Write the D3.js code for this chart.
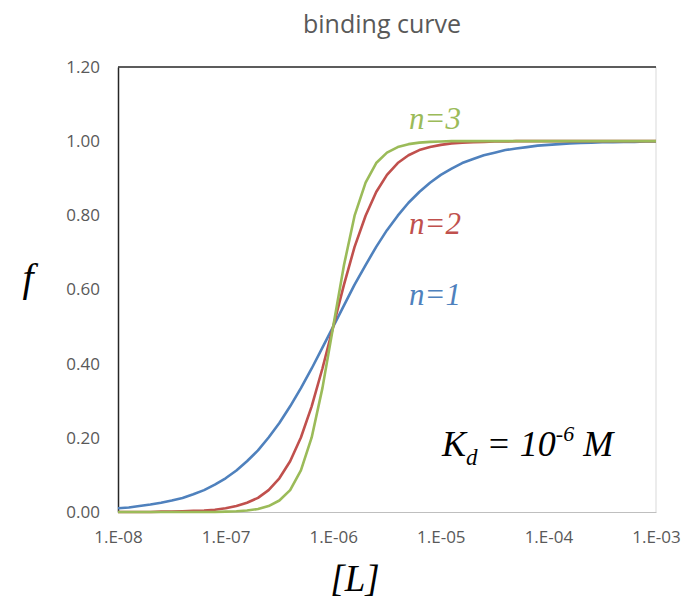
<html>
<head>
<meta charset="UTF-8">
<script src="https://d3js.org/d3.v7.min.js"></script>
</head>
<body style="margin:0">
<svg width="684" height="600"></svg>
<script>
// ligand concentration [L] (M), 10 points per decade from 1E-08 to 1E-03
const conc = [
  1.00e-8, 1.26e-8, 1.58e-8, 2.00e-8, 2.51e-8, 3.16e-8, 3.98e-8, 5.01e-8, 6.31e-8, 7.94e-8,
  1.00e-7, 1.26e-7, 1.58e-7, 2.00e-7, 2.51e-7, 3.16e-7, 3.98e-7, 5.01e-7, 6.31e-7, 7.94e-7,
  1.00e-6, 1.26e-6, 1.58e-6, 2.00e-6, 2.51e-6, 3.16e-6, 3.98e-6, 5.01e-6, 6.31e-6, 7.94e-6,
  1.00e-5, 1.26e-5, 1.58e-5, 2.00e-5, 2.51e-5, 3.16e-5, 3.98e-5, 5.01e-5, 6.31e-5, 7.94e-5,
  1.00e-4, 1.26e-4, 1.58e-4, 2.00e-4, 2.51e-4, 3.16e-4, 3.98e-4, 5.01e-4, 6.31e-4, 7.94e-4,
  1.00e-3
];
const n1 = [
  0.010, 0.012, 0.016, 0.020, 0.025, 0.031, 0.038, 0.048, 0.059, 0.074,
  0.091, 0.112, 0.137, 0.166, 0.201, 0.240, 0.285, 0.334, 0.387, 0.443,
  0.500, 0.557, 0.613, 0.666, 0.715, 0.760, 0.799, 0.834, 0.863, 0.888,
  0.909, 0.926, 0.941, 0.952, 0.962, 0.969, 0.976, 0.980, 0.984, 0.988,
  0.990, 0.992, 0.994, 0.995, 0.996, 0.997, 0.997, 0.998, 0.998, 0.999,
  0.999
];
const n2 = [
  0.000, 0.000, 0.000, 0.000, 0.001, 0.001, 0.002, 0.003, 0.004, 0.006,
  0.010, 0.016, 0.025, 0.038, 0.059, 0.091, 0.137, 0.201, 0.285, 0.387,
  0.500, 0.613, 0.715, 0.799, 0.863, 0.909, 0.941, 0.962, 0.976, 0.984,
  0.990, 0.994, 0.996, 0.997, 0.998, 0.999, 0.999, 1.000, 1.000, 1.000,
  1.000, 1.000, 1.000, 1.000, 1.000, 1.000, 1.000, 1.000, 1.000, 1.000,
  1.000
];
const n3 = [
  0.000, 0.000, 0.000, 0.000, 0.000, 0.000, 0.000, 0.000, 0.000, 0.000,
  0.001, 0.002, 0.004, 0.008, 0.016, 0.031, 0.059, 0.112, 0.201, 0.334,
  0.500, 0.666, 0.799, 0.888, 0.941, 0.969, 0.984, 0.992, 0.996, 0.998,
  0.999, 1.000, 1.000, 1.000, 1.000, 1.000, 1.000, 1.000, 1.000, 1.000,
  1.000, 1.000, 1.000, 1.000, 1.000, 1.000, 1.000, 1.000, 1.000, 1.000,
  1.000
];
const xTicks = [1e-8, 1e-7, 1e-6, 1e-5, 1e-4, 1e-3];
const xTickLabels = ["1.E-08", "1.E-07", "1.E-06", "1.E-05", "1.E-04", "1.E-03"];
const yTicks = [0, 0.2, 0.4, 0.6, 0.8, 1.0, 1.2];

const series = [
  {name: "n=1", values: n1, color: "#4F81BD"},
  {name: "n=2", values: n2, color: "#C0504D"},
  {name: "n=3", values: n3, color: "#9BBB59"}
];

const margin = {top: 67, right: 28, bottom: 88, left: 118},
      width = 684 - margin.left - margin.right,
      height = 600 - margin.top - margin.bottom;

const svg = d3.select("svg");

// math-style labels in italic serif
const math = svg.append("g")
    .attr("font-family", "Liberation Serif, Times New Roman, serif")
    .attr("font-style", "italic");

math.append("text")
    .attr("x", 28).attr("y", 291)
    .attr("text-anchor", "middle")
    .attr("font-size", 40)
    .text("f");

math.append("text")
    .attr("x", 355).attr("y", 591)
    .attr("text-anchor", "middle")
    .attr("font-size", 37)
    .text("[L]");

const labelPos = {"n=3": 129, "n=2": 234, "n=1": 305};
series.forEach(s => {
  math.append("text")
      .attr("x", 409).attr("y", labelPos[s.name])
      .attr("font-size", 31)
      .attr("fill", s.color)
      .text(s.name);
});

const kd = math.append("text")
    .attr("x", 442).attr("y", 456)
    .attr("font-size", 36)
    .attr("fill", "#000");
kd.append("tspan").text("K");
kd.append("tspan").attr("font-size", 23).attr("dy", 9).text("d");
kd.append("tspan").attr("dy", -9).text(" = 10");
kd.append("tspan").attr("font-size", 22).attr("dy", -15).text("-6");
kd.append("tspan").attr("dy", 15).text(" M");

const g = svg.append("g")
    .attr("transform", `translate(${margin.left},${margin.top})`);

const x = d3.scaleLog().domain([1e-8, 1e-3]).range([0, width]);
const y = d3.scaleLinear().domain([0, 1.2]).range([height, 0]);

// plot area border: right side light gray
g.append("line")
    .attr("x1", width).attr("x2", width).attr("y1", 0).attr("y2", height)
    .attr("stroke", "#d9d9d9");

// x axis
g.append("g")
    .attr("transform", `translate(0,${height})`)
    .call(d3.axisBottom(x).tickValues(xTicks).tickSize(0).tickPadding(19)
        .tickFormat((d, i) => xTickLabels[i]))
    .call(a => a.attr("font-family", "Open Sans").attr("font-size", 17))
    .call(a => a.selectAll("text").attr("fill", "#595959"))
    .call(a => a.select(".domain").attr("stroke", "#bfbfbf"));

// y axis
g.append("g")
    .call(d3.axisLeft(y).tickValues(yTicks).tickSize(0).tickPadding(18)
        .tickFormat(d3.format(".2f")))
    .call(a => a.attr("font-family", "Open Sans").attr("font-size", 17))
    .call(a => a.selectAll("text").attr("fill", "#595959"))
    .call(a => a.select(".domain").attr("stroke", "#262626").attr("stroke-width", 1.5));

// top border
g.append("line")
    .attr("x1", 0).attr("x2", width).attr("y1", 0).attr("y2", 0)
    .attr("stroke", "#262626").attr("stroke-width", 1.5);

const line = d3.line()
    .x((d, i) => x(conc[i]))
    .y(d => y(d));

series.forEach(s => {
  g.append("path")
      .datum(s.values)
      .attr("fill", "none")
      .attr("stroke-width", 2.6)
      .attr("stroke-linejoin", "round")
      .attr("stroke", s.color)
      .attr("d", line);
});

// title
svg.append("text")
    .attr("x", 382).attr("y", 33)
    .attr("text-anchor", "middle")
    .attr("font-family", "Open Sans")
    .attr("font-size", 25)
    .attr("fill", "#595959")
    .text("binding curve");
</script>
</body>
</html>
